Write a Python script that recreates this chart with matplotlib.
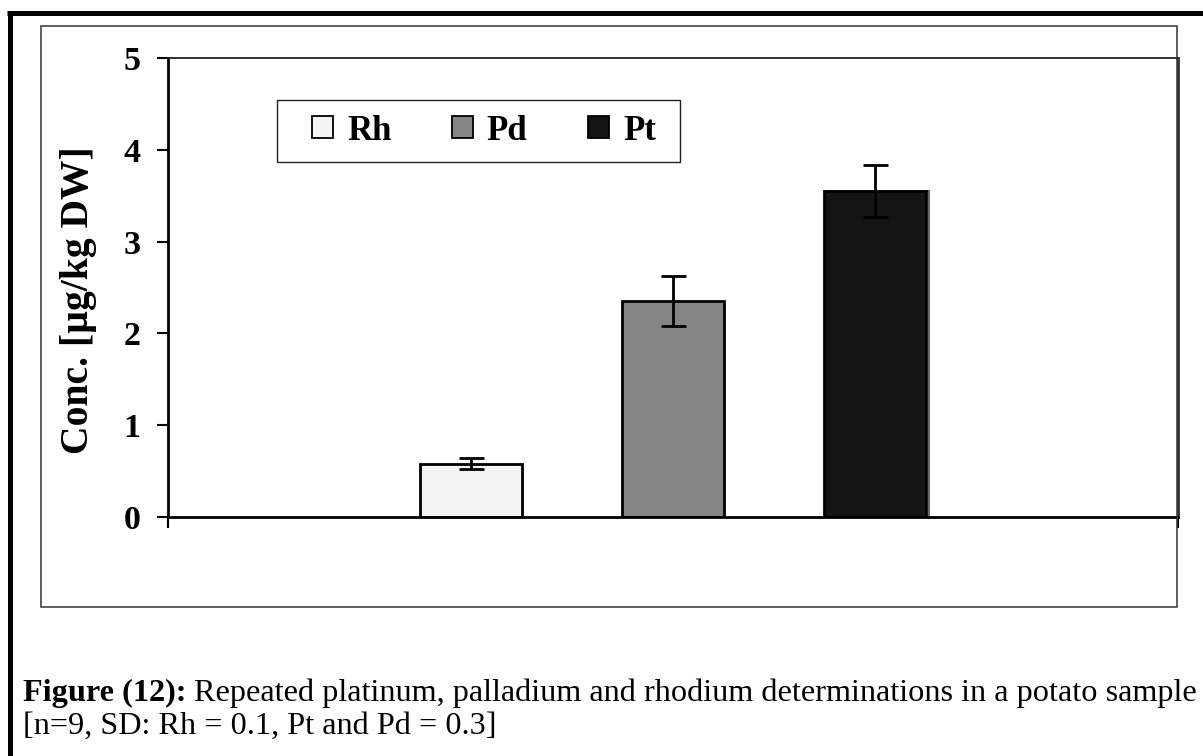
import matplotlib
matplotlib.use("Agg")
import matplotlib.pyplot as plt
from matplotlib.patches import Rectangle, Patch
from matplotlib.lines import Line2D

# Data
elements = ["Rh", "Pd", "Pt"]
conc_mean = [0.58, 2.35, 3.55]
conc_sd = [0.06, 0.27, 0.28]
y_ticks = [0, 1, 2, 3, 4, 5]

fill_colors = ["#f3f3f3", "#858585", "#141414"]
offsets = [-0.2, 0.0, 0.2]
bar_w = 0.101

plt.rcParams["font.family"] = ["Liberation Serif", "DejaVu Serif"]

W, H = 1203, 756
fig = plt.figure(figsize=(W / 100, H / 100), dpi=100)
fig.patch.set_facecolor("white")

def fx(px):
    return px / W

def fy(py):
    return 1 - py / H

ax = fig.add_axes([fx(168), fy(517), fx(1178) - fx(168), fy(58) - fy(517)])

# Bars with error bars
for i, name in enumerate(elements):
    x = offsets[i]
    if name == "Pt":
        # offset gray outline behind the dark bar
        ax.bar(x + 0.003, conc_mean[i], width=bar_w, fill=False,
               edgecolor="#5a5a5a", linewidth=1.3, zorder=1)
    ax.bar(x, conc_mean[i], width=bar_w, color=fill_colors[i],
           edgecolor="black", linewidth=2.0, zorder=2)
    ax.errorbar(x, conc_mean[i], yerr=conc_sd[i], fmt="none", ecolor="black",
                elinewidth=2.0, capsize=9, capthick=2.0, zorder=3)

ax.set_xlim(-0.5, 0.5)
ax.set_ylim(0, 5)
ax.set_yticks(y_ticks)
ax.set_yticklabels([str(t) for t in y_ticks], fontsize=24.5, fontweight="bold")
ax.set_xticks([-0.5, 0.5])
ax.set_xticklabels(["", ""])
ax.tick_params(axis="y", direction="out", length=8, width=1.5, pad=12)
ax.tick_params(axis="x", direction="out", length=8, width=1.5)

ax.spines["left"].set_linewidth(2.0)
ax.spines["bottom"].set_linewidth(2.0)
ax.spines["top"].set_linewidth(1.3)
ax.spines["top"].set_color("#222222")
ax.spines["right"].set_linewidth(2.0)
ax.spines["right"].set_color("#333333")

# Legend
handles = [Patch(facecolor=c, edgecolor="black", linewidth=1.3) for c in fill_colors]
leg = fig.legend(handles, elements, loc="center", ncol=3,
                 bbox_to_anchor=(fx(484), fy(131)), bbox_transform=fig.transFigure,
                 frameon=False, prop={"size": 25, "weight": "bold"},
                 handlelength=0.6, handleheight=0.6, handletextpad=0.4,
                 columnspacing=1.75, borderpad=0)
fig.patches.append(Rectangle((fx(277), fy(162)), fx(680) - fx(277), fy(100) - fy(162),
                             transform=fig.transFigure, fill=False,
                             edgecolor="#222222", linewidth=1.0, zorder=5))

# Y axis title
fig.text(fx(78.5), fy(300), "Conc. [µg/kg DW]", rotation=90, ha="center", va="center",
         fontsize=28.5, fontweight="bold")

# Chart area frame
fig.patches.append(Rectangle((fx(41), fy(607)), fx(1177) - fx(41), fy(26) - fy(607),
                             transform=fig.transFigure, fill=False,
                             edgecolor="#333333", linewidth=1.1, zorder=0))

# Thick page border (left and top)
fig.lines.append(Line2D([fx(9.5), fx(9.5)], [0, fy(12.5)], transform=fig.transFigure,
                        color="black", linewidth=3.6, solid_capstyle="butt"))
fig.lines.append(Line2D([fx(7), 1], [fy(12.5), fy(12.5)], transform=fig.transFigure,
                        color="black", linewidth=3.6, solid_capstyle="butt"))

# Caption
cap_size = 23.2
t1 = fig.text(fx(23), fy(701), "Figure (12):", fontsize=cap_size, fontweight="bold",
              ha="left", va="baseline")
fig.canvas.draw()
r = fig.canvas.get_renderer()
bb = t1.get_window_extent(r)
fig.text((bb.x1 + 7) / W, fy(701),
         "Repeated platinum, palladium and rhodium determinations in a potato sample",
         fontsize=cap_size, ha="left", va="baseline")
fig.text(fx(23), fy(734), "[n=9, SD: Rh = 0.1, Pt and Pd = 0.3]", fontsize=cap_size,
         ha="left", va="baseline")

fig.savefig("out.png", dpi=100)
